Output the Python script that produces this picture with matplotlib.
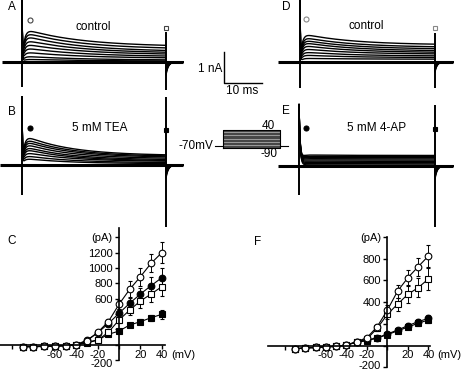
import numpy as np
import matplotlib
matplotlib.use('Agg')
import matplotlib.pyplot as plt

plt.rcParams['font.family'] = ['Liberation Sans', 'DejaVu Sans']

# ---------------- data ----------------
# I-V curves (mV, pA)
iv_v = [-90, -80, -70, -60, -50, -40, -30, -20, -10, 0, 10, 20, 30, 40]

c_ctrl_peak = [-25, -25, -22, -18, -12, 0, 48, 160, 300, 527, 722, 887, 1062, 1200]
c_ctrl_peak_err = [5, 5, 5, 5, 5, 5, 10, 20, 30, 55, 105, 115, 120, 140]
c_tea_peak = [-25, -25, -22, -18, -12, 0, 60, 155, 274, 410, 540, 661, 770, 874]
c_tea_peak_err = [5, 5, 5, 5, 5, 5, 10, 20, 30, 50, 75, 85, 115, 122]
c_ctrl_ss = [-25, -25, -22, -18, -12, 0, 35, 60, 161, 322, 452, 570, 661, 757]
c_ctrl_ss_err = [5, 5, 5, 5, 5, 5, 10, 15, 25, 40, 65, 90, 100, 125]
c_tea_ss = [-25, -25, -22, -18, -12, 0, 22, 60, 135, 178, 257, 300, 352, 396]
c_tea_ss_err = [5, 5, 5, 5, 5, 5, 10, 12, 15, 20, 25, 30, 38, 56]

f_ctrl_peak = [-30, -22, -18, -12, -8, 5, 35, 72, 173, 327, 502, 625, 726, 825]
f_ctrl_peak_err = [5, 5, 5, 5, 5, 5, 10, 15, 25, 45, 60, 70, 85, 105]
f_ctrl_ss = [-30, -22, -18, -12, -8, 5, 32, 60, 158, 287, 382, 472, 533, 613]
f_ctrl_ss_err = [5, 5, 5, 5, 5, 5, 10, 15, 25, 40, 60, 80, 85, 105]
f_ap_peak = [-30, -22, -18, -12, -8, 5, 32, 50, 72, 106, 143, 183, 220, 250]
f_ap_peak_err = [5, 5, 5, 5, 5, 5, 8, 10, 12, 15, 18, 20, 25, 30]
f_ap_ss = [-30, -22, -18, -12, -8, 5, 28, 45, 68, 100, 135, 170, 205, 235]
f_ap_ss_err = [5, 5, 5, 5, 5, 5, 8, 10, 12, 15, 18, 20, 25, 30]

c_xticks = [-100, -80, -60, -40, -20, 0, 20, 40]
c_xticklabels = ['', '', '-60', '-40', '-20', '', '20', '40']
c_yticks = [-200, 0, 200, 400, 600, 800, 1000, 1200, 1400]
c_yticklabels = ['-200', '', '', '', '600', '800', '1000', '1200', '(pA)']
f_xticks = [-100, -80, -60, -40, -20, 0, 20, 40]
f_xticklabels = ['', '', '-60', '-40', '-20', '', '20', '40']
f_yticks = [-200, 0, 200, 400, 600, 800, 1000]
f_yticklabels = ['-200', '', '', '400', '600', '800', '(pA)']

# current traces (nA): sweeps at -40 ... 40 mV
trace_v = [-40, -30, -20, -10, 0, 10, 20, 30, 40]
pulse_ms = 38.0
a_peak = [0.09, 0.19, 0.33, 0.47, 0.60, 0.73, 0.87, 0.98, 1.09]
a_end = [0.03, 0.06, 0.12, 0.17, 0.23, 0.28, 0.33, 0.41, 0.49]
b_peak = [0.22, 0.32, 0.43, 0.54, 0.62, 0.72, 0.81, 0.89, 0.99]
b_end = [0.04, 0.07, 0.11, 0.13, 0.16, 0.20, 0.24, 0.27, 0.30]
d_peak = [0.12, 0.23, 0.33, 0.44, 0.55, 0.65, 0.73, 0.82, 0.93]
d_end = [0.09, 0.14, 0.19, 0.25, 0.30, 0.35, 0.41, 0.47, 0.55]
e_peak = [0.04, 0.08, 0.12, 0.16, 0.20, 0.24, 0.28, 0.32, 0.36]
e_end = [0.03, 0.07, 0.11, 0.15, 0.19, 0.23, 0.27, 0.30, 0.34]
a_tail = [-0.1, -0.14, -0.18, -0.22, -0.26, -0.3, -0.34, -0.38, -0.42]
b_tail = [-0.1, -0.14, -0.18, -0.22, -0.26, -0.3, -0.34, -0.38, -0.42]
d_tail = [-0.08, -0.11, -0.14, -0.17, -0.2, -0.23, -0.26, -0.29, -0.32]
e_tail = [-0.1, -0.14, -0.18, -0.22, -0.26, -0.3, -0.34, -0.38, -0.42]
# capacitive spikes (nA): onset up/down, end up/down
a_spikes = [2.0, -0.8, 0.97, -0.9]
b_spikes = [2.2, -0.97, 2.2, -2.0]
d_spikes = [2.0, -0.84, 0.94, -0.84]
e_spikes = [1.98, -0.94, 1.96, -1.97]

# protocol
proto_levels = [-90, -80, -70, -60, -50, -40, -30, -20, -10, 0, 10, 20, 30, 40]
hold_mv = -70

# ---------------- figure ----------------
W, H = 463, 372
fig = plt.figure(figsize=(W / 100, H / 100), dpi=100)
FS = 8.5
TFS = 8.0


def px_axes(x0px, sx, y0px, sy, box):
    l, t, r, b = box
    ax = fig.add_axes([l / W, 1 - b / H, (r - l) / W, (b - t) / H])
    ax.set_xlim((l - x0px) / sx, (r - x0px) / sx)
    ax.set_ylim((y0px - b) / sy, (y0px - t) / sy)
    ax.patch.set_alpha(0)
    return ax


def ftext(x, y, s, **kw):
    kw.setdefault('fontsize', FS)
    fig.text(x / W, 1 - y / H, s, **kw)


def trace_panel(onset_px, end_px, base_px, ext, box, peaks, ends, tails,
                spikes, tau, cap_tau, marker_fill, mk_circle, mk_square, mkcol):
    sx = (end_px - onset_px) / pulse_ms
    ax = px_axes(onset_px, sx, base_px, 31.0, box)
    ax.axis('off')
    t0 = (ext[0] - onset_px) / sx
    t1 = (ext[1] - onset_px) / sx
    ax.plot([t0, t1], [0, 0], color='k', lw=2.2, solid_capstyle='butt')
    t = np.linspace(0, pulse_ms, 600)
    tt = np.linspace(pulse_ms, t1, 200)
    for p, e, tl in zip(peaks, ends, tails):
        ionic = (e + (p - e) * np.exp(-t / tau)) * (1 - np.exp(-t / 0.6))
        cap = spikes[0] * np.exp(-t / cap_tau)
        ax.plot(t, ionic + cap, color='k', lw=1.0)
        ax.plot(tt, tl * np.exp(-(tt - pulse_ms) / 0.6), color='k', lw=1.0)
    ax.vlines(0, spikes[1], spikes[0], color='k', lw=1.4)
    ax.vlines(pulse_ms, spikes[3], spikes[2], color='k', lw=1.4)
    fc = 'k' if marker_fill else 'white'
    ax.plot([mk_circle[0]], [mk_circle[1]], 'o', ms=3.6, mfc=fc, mec=mkcol, mew=0.8)
    ax.plot([pulse_ms], [mk_square], 's', ms=3.4, mfc=fc, mec=mkcol, mew=0.8)
    return ax


trace_panel(22, 166, 62, (2, 183), (0, 0, 190, 104), a_peak, a_end, a_tail,
            a_spikes, 15, 0.1, False, (2.1, 1.35), 1.1, '#444444')
trace_panel(22, 166, 165, (0, 183), (0, 95, 190, 235), b_peak, b_end, b_tail,
            b_spikes, 12, 0.1, True, (2.1, 1.2), 1.13, 'k')
trace_panel(300, 435, 62, (278, 453), (270, 0, 463, 104), d_peak, d_end, d_tail,
            d_spikes, 14, 0.1, False, (1.7, 1.39), 1.1, '#888888')
trace_panel(299, 435, 166, (278, 453), (270, 95, 463, 235), e_peak, e_end, e_tail,
            e_spikes, 10, 0.3, True, (2.0, 1.23), 1.19, 'k')

# scale bar (same units as panel A)
sxA = (166 - 22) / pulse_ms
axs = px_axes(224.3, sxA, 82.7, 31.0, (215, 45, 270, 90))
axs.axis('off')
axs.plot([0, 0, 10], [1, 0, 0], color='k', lw=1.0)

# voltage protocol
sxP = (280 - 222.7) / pulse_ms
syP = (148.3 - 130.0) / 130.0
axp = px_axes(222.7, sxP, 145.5, syP, (205, 120, 295, 160))
axp.set_ylim(axp.get_ylim()[0] + hold_mv, axp.get_ylim()[1] + hold_mv)
axp.axis('off')
axp.fill_between([0, pulse_ms], min(proto_levels), max(proto_levels),
                 color='#999999', lw=0)
for lv in proto_levels:
    axp.plot([-5, 0, 0, pulse_ms, pulse_ms, pulse_ms + 5],
             [hold_mv, hold_mv, lv, lv, hold_mv, hold_mv], color='#222222', lw=0.5)
axp.plot([0, pulse_ms, pulse_ms, 0, 0],
         [min(proto_levels), min(proto_levels), max(proto_levels),
          max(proto_levels), min(proto_levels)], color='k', lw=0.8)
axp.plot([-5, 0], [hold_mv, hold_mv], color='k', lw=0.8)
axp.plot([pulse_ms, pulse_ms + 5], [hold_mv, hold_mv], color='k', lw=0.8)


# I-V panels
def iv_panel(x0px, sx, y0px, sy, xlim_px, ylim, xt, xtl, yt, ytl, series,
             low_label_dy=0.0):
    l, r = xlim_px
    top = y0px - ylim[1] * sy
    bot = y0px - ylim[0] * sy
    ax = px_axes(x0px, sx, y0px, sy, (l, top, r, bot))
    for sp in ['top', 'right']:
        ax.spines[sp].set_visible(False)
    ax.spines['left'].set_position(('data', 0))
    ax.spines['bottom'].set_position(('data', 0))
    for sp in ['left', 'bottom']:
        ax.spines[sp].set_linewidth(1.2)
    ax.set_xticks(xt)
    ax.set_xticklabels(xtl)
    ax.set_yticks(yt)
    ax.set_yticklabels([''] + list(ytl[1:]))
    ax.tick_params(axis='y', length=3, width=1.0, labelsize=TFS, pad=1.5,
                   direction='out')
    ax.tick_params(axis='x', length=3, width=1.0, labelsize=TFS, pad=0.5,
                   direction='out')
    ax.annotate(ytl[0], xy=(0, yt[0]), xycoords='data',
                xytext=(-4.5, low_label_dy), textcoords='offset points',
                ha='right', va='center', fontsize=TFS, annotation_clip=False)
    for y, e, mk, filled in series:
        ax.errorbar(iv_v, y, yerr=e, fmt='-' + mk, color='k', lw=0.8,
                    elinewidth=0.7, capsize=1.5, capthick=0.7, ms=4.8,
                    mfc='k' if filled else 'white', mec='k', mew=0.8,
                    clip_on=False)
    ax.annotate('(mV)', xy=(60, 0), xycoords='data', xytext=(0, -3.5),
                textcoords='offset points', ha='center', va='top', fontsize=TFS,
                annotation_clip=False)
    return ax


iv_panel(119, 1.07, 344.7, 46 / 600, (0, 165), (-200, 1520),
         c_xticks, c_xticklabels, c_yticks, c_yticklabels,
         [(c_tea_ss, c_tea_ss_err, 's', True),
          (c_ctrl_ss, c_ctrl_ss_err, 's', False),
          (c_tea_peak, c_tea_peak_err, 'o', True),
          (c_ctrl_peak, c_ctrl_peak_err, 'o', False)], low_label_dy=-2.8)
iv_panel(387.4, 1.025, 345.5, 21.7 / 200, (268, 430), (-200, 1000),
         f_xticks, f_xticklabels, f_yticks, f_yticklabels,
         [(f_ap_ss, f_ap_ss_err, 's', True),
          (f_ctrl_ss, f_ctrl_ss_err, 's', False),
          (f_ap_peak, f_ap_peak_err, 'o', True),
          (f_ctrl_peak, f_ctrl_peak_err, 'o', False)], low_label_dy=0.8)

# texts
ftext(11.7, 7, 'A', ha='center', va='center')
ftext(11.7, 112, 'B', ha='center', va='center')
ftext(12, 241, 'C', ha='center', va='center')
ftext(286, 7, 'D', ha='center', va='center')
ftext(286, 111, 'E', ha='center', va='center')
ftext(258, 242, 'F', ha='center', va='center')
ftext(93, 27, 'control', ha='center', va='center')
ftext(366, 26, 'control', ha='center', va='center')
ftext(100, 128, '5 mM TEA', ha='center', va='center')
ftext(377, 128, '5 mM 4-AP', ha='center', va='center')
ftext(222, 69, '1 nA', ha='right', va='center')
ftext(241.7, 90.7, '10 ms', ha='center', va='center')
ftext(213.5, 146, '-70mV', ha='right', va='center')
ftext(268.3, 126, '40', ha='center', va='center')
ftext(269, 154, '-90', ha='center', va='center')

fig.savefig('out.png', dpi=100)
